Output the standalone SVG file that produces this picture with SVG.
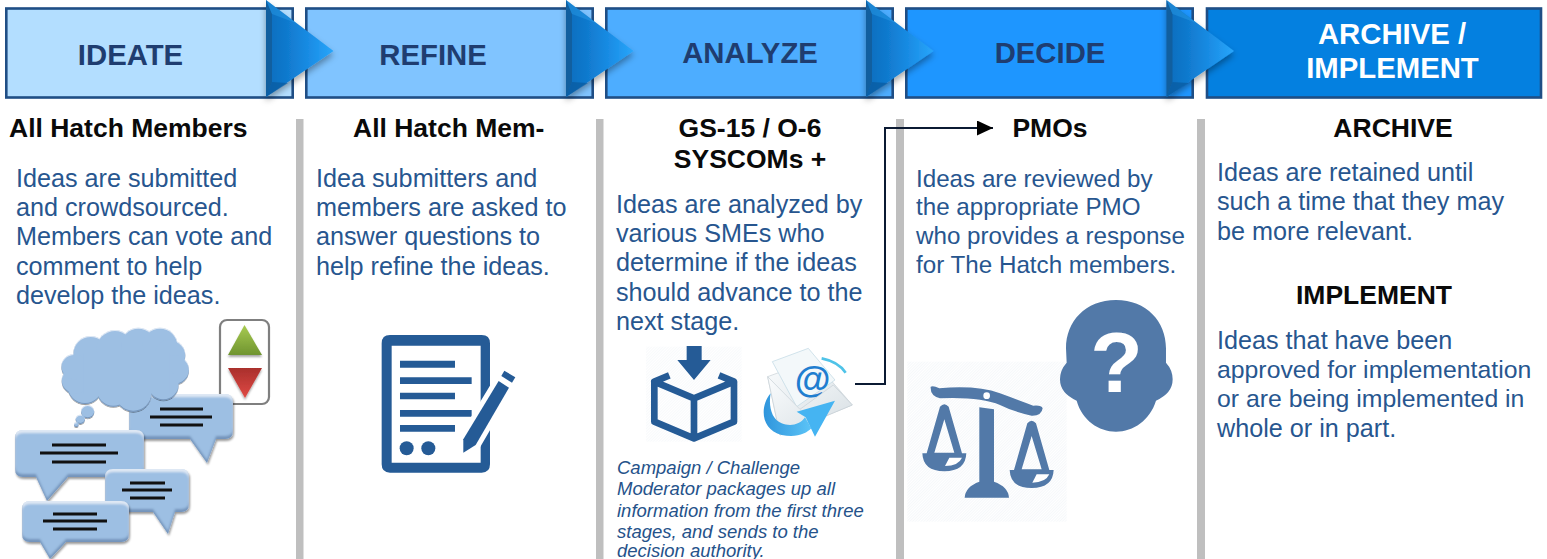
<svg xmlns="http://www.w3.org/2000/svg" width="1547" height="559" viewBox="0 0 1547 559">
<style>
text{font-family:"Liberation Sans",Arial,sans-serif}
.box{stroke:#1f4e85;stroke-width:2.6}
.title{font-size:29.3px;font-weight:bold;fill:#1f3d70;text-anchor:middle}
.head{font-size:26.5px;font-weight:bold;fill:#0a0a0a}
.mid{text-anchor:middle}
.body{font-size:25.2px;fill:#27568f}
.b4{font-size:24.2px}
.b5{font-size:24.8px}
.note{font-size:18.5px;font-style:italic;fill:#25528a}
.sep{fill:#bfbfbf}
.bub{fill:#9dbfe3;filter:url(#bevel)}
.ln{stroke:#111;stroke-width:2.8;fill:none}
.ic{fill:#255b96}
.ic2{fill:#5279a8}
</style>
<defs>
<linearGradient id="ag" x1="0" x2="1" y1="0" y2="0"><stop offset="0" stop-color="#0e6dbd"/><stop offset=".3" stop-color="#1079cd"/><stop offset=".65" stop-color="#1a8de5"/><stop offset="1" stop-color="#28a6fb"/></linearGradient>
<linearGradient id="gr" x1="0" x2="0" y1="0" y2="1"><stop offset="0" stop-color="#a8cb50"/><stop offset="1" stop-color="#6f9430"/></linearGradient>
<linearGradient id="rd" x1="0" x2="0" y1="0" y2="1"><stop offset="0" stop-color="#a92f2c"/><stop offset="1" stop-color="#e04a44"/></linearGradient>
<linearGradient id="env" x1="0" x2="1" y1="0" y2="1"><stop offset="0" stop-color="#fafcfd"/><stop offset="1" stop-color="#d5dde2"/></linearGradient>
<linearGradient id="sw" x1="0" x2="1" y1="0" y2="0"><stop offset="0" stop-color="#2f95dc"/><stop offset="1" stop-color="#5cc4f7"/></linearGradient>
<pattern id="hatch" width="6" height="6" patternUnits="userSpaceOnUse" patternTransform="rotate(45)"><rect width="6" height="6" fill="#fff"/><rect width="2" height="6" fill="#eef2f7"/></pattern>
<filter id="bevel" x="-15%" y="-15%" width="130%" height="135%">
<feOffset in="SourceAlpha" dy="3" result="o1"/><feGaussianBlur in="o1" stdDeviation="1.2" result="b1"/>
<feComposite in="SourceAlpha" in2="b1" operator="out" result="top"/>
<feFlood flood-color="#fff" flood-opacity=".6"/><feComposite in2="top" operator="in" result="hi"/>
<feOffset in="SourceAlpha" dy="-3" result="o2"/><feGaussianBlur in="o2" stdDeviation="1.2" result="b2"/>
<feComposite in="SourceAlpha" in2="b2" operator="out" result="bot"/>
<feFlood flood-color="#1f4e85" flood-opacity=".5"/><feComposite in2="bot" operator="in" result="lo"/>
<feOffset in="SourceAlpha" dy="2" dx="1"/><feGaussianBlur stdDeviation="1.2"/><feComponentTransfer result="sh"><feFuncA type="linear" slope=".4"/></feComponentTransfer>
<feMerge><feMergeNode in="sh"/><feMergeNode in="SourceGraphic"/><feMergeNode in="hi"/><feMergeNode in="lo"/></feMerge>
</filter>
<filter id="ash" x="-30%" y="-10%" width="170%" height="130%"><feDropShadow dx="0" dy="4" stdDeviation="3" flood-color="#000" flood-opacity=".35"/></filter>
<filter id="tsh" x="-20%" y="-20%" width="140%" height="150%"><feDropShadow dx="0" dy="2" stdDeviation="1" flood-color="#000" flood-opacity=".35"/></filter>
<marker id="ah" markerWidth="17" markerHeight="16" refX="16" refY="7.500" orient="auto" markerUnits="userSpaceOnUse"><path d="M0,0 L16,7.500 L0,15 Z" fill="#000"/></marker>
<g id="chev">
<path d="M0,0 L67.500,51 L0,97 Z" fill="url(#ag)" filter="url(#ash)"/>
<path d="M0,0 L6,14 L6,82 L0,97 Z" fill="#115f9f"/>
<path d="M0,97 L22,83 L6,82 Z" fill="#0a5a9e" opacity=".7"/>
<path d="M0,0 L30,23 L6,14 Z" fill="#2a9de8" opacity=".45"/>
</g>
</defs>
<rect width="1547" height="559" fill="#fff"/>

<g id="sep">
<rect class="sep" x="296" y="119" width="7.500" height="440"/>
<rect class="sep" x="596" y="119" width="7.500" height="440"/>
<rect class="sep" x="896" y="119" width="8" height="440"/>
<rect class="sep" x="1197" y="119" width="8" height="440"/>
</g>

<g id="step-ideate"><rect class="box" x="6.300" y="8.500" width="286.400" height="89" fill="#b3deff"/><text class="title" x="130.500" y="65">IDEATE</text></g>
<g id="step-refine"><rect class="box" x="306.300" y="8.500" width="286.400" height="89" fill="#80c4ff"/><text class="title" x="433" y="65">REFINE</text></g>
<g id="step-analyze"><rect class="box" x="606.300" y="8.500" width="286.400" height="89" fill="#4dadff"/><text class="title" x="750" y="63">ANALYZE</text></g>
<g id="step-decide"><rect class="box" x="906.300" y="8.500" width="286.400" height="89" fill="#1e96ff"/><text class="title" x="1050" y="63">DECIDE</text></g>
<g id="step-archive"><rect class="box" x="1207" y="8.500" width="334" height="89" fill="#0480e0"/><text class="title" x="1392" y="44" style="fill:#fff">ARCHIVE /</text><text class="title" x="1392.500" y="78" style="fill:#fff">IMPLEMENT</text></g>

<g id="chevrons">
<use href="#chev" x="266" y="0"/><use href="#chev" x="566" y="0"/><use href="#chev" x="866" y="0"/><use href="#chev" x="1166.500" y="0"/>
</g>

<g id="col-ideate">
<text class="head" x="9" y="137">All Hatch Members</text>
<text class="body" x="16" y="187">Ideas are submitted</text>
<text class="body" x="16" y="216">and crowdsourced.</text>
<text class="body" x="16" y="245">Members can vote and</text>
<text class="body" x="16" y="275">comment to help</text>
<text class="body" x="16" y="304">develop the ideas.</text>
</g>
<g id="icon-votes">
<rect x="220" y="320" width="49" height="84" rx="7" fill="#fff" stroke="#7f7f7f" stroke-width="2.200"/>
<path d="M244.500,325 L262,355 L228,355 Z" fill="url(#gr)" filter="url(#tsh)"/>
<path d="M228,368 L262,368 L245,398 Z" fill="url(#rd)" filter="url(#tsh)"/>
</g>
<g id="icon-bubble-a"><path class="bub" d="M137,394 H225 Q233,394 233,402 V431 Q233,439 225,439 H216 L207,463 L190,439 H137 Q129,439 129,431 V402 Q129,394 137,394 Z"/><path class="ln" d="M160,409 H203 M150,417 H212 M160,425 H203"/></g>
<g id="icon-cloud">
<g transform="translate(0,310) scale(.3333)" style="filter:url(#bevel)" fill="#9dbfe3">
<circle cx="272" cy="130" r="52"/><circle cx="345" cy="115" r="55"/><circle cx="415" cy="105" r="52"/><circle cx="480" cy="105" r="52"/><circle cx="510" cy="135" r="46"/><circle cx="523" cy="180" r="44"/><circle cx="490" cy="225" r="46"/><circle cx="400" cy="250" r="55"/><circle cx="340" cy="240" r="50"/><circle cx="255" cy="230" r="52"/><circle cx="225" cy="212" r="40"/><circle cx="222" cy="170" r="38"/><rect x="250" y="130" width="260" height="120"/>
<circle cx="263" cy="305" r="20"/><circle cx="241" cy="328" r="14"/><circle cx="229" cy="344" r="7"/>
</g>
</g>
<g id="icon-bubble-b"><path class="bub" d="M23,430 H136 Q144,430 144,438 V469 Q144,477 136,477 H68 L47,501 L36,477 H23 Q15,477 15,469 V438 Q15,430 23,430 Z"/><path class="ln" d="M52,445 H106 M40,453 H118 M52,462 H106"/></g>
<g id="icon-bubble-c"><path class="bub" d="M113,469 H181 Q189,469 189,477 V504 Q189,512 181,512 H175 L168,534 L153,512 H113 Q105,512 105,504 V477 Q105,469 113,469 Z"/><path class="ln" d="M130,483 H165 M122,490 H172 M130,498 H165"/></g>
<g id="icon-bubble-d"><path class="bub" d="M30,501 H121 Q129,501 129,509 V534 Q129,542 121,542 H66 L50,559 L40,542 H30 Q22,542 22,534 V509 Q22,501 30,501 Z"/><path class="ln" d="M53,514 H97 M43,521 H107 M53,529 H97"/></g>

<g id="col-refine">
<text class="head" x="353" y="137">All Hatch Mem-</text>
<text class="body" x="316" y="187">Idea submitters and</text>
<text class="body" x="316" y="216">members are asked to</text>
<text class="body" x="316" y="245">answer questions to</text>
<text class="body" x="316" y="275">help refine the ideas.</text>
</g>
<g id="icon-doc" transform="translate(360,320) scale(.3333)">
<path class="ic" fill-rule="evenodd" d="M90,45 H365 Q390,45 390,70 V433 Q390,458 365,458 H90 Q65,458 65,433 V70 Q65,45 90,45 Z M95,77 V428 H362 V77 Z"/>
<path class="ic" d="M120,122 H285 V143 H120 Z M120,172 H335 V192 H120 Z M120,218 H285 V238 H120 Z M120,270 H335 V290 H120 Z M120,315 H285 V335 H120 Z"/>
<circle class="ic" cx="140" cy="385" r="21"/><circle class="ic" cx="205" cy="385" r="21"/>
<path d="M310,398 L310,358 L416,183 L447,203 L347,375 Z" fill="#fff" stroke="#fff" stroke-width="30"/>
<path class="ic" d="M310,398 L310,358 L416,183 L447,203 L347,375 Z"/>
<path class="ic" d="M433,152 L466,172 L456,188 L424,168 Z"/>
</g>

<g id="col-analyze">
<text class="head mid" x="750" y="136.500">GS-15 / O-6</text>
<text class="head mid" x="750" y="168">SYSCOMs +</text>
<text class="body" x="616" y="213">Ideas are analyzed by</text>
<text class="body" x="616" y="242">various SMEs who</text>
<text class="body" x="616" y="271">determine if the ideas</text>
<text class="body" x="616" y="301">should advance to the</text>
<text class="body" x="616" y="330">next stage.</text>
<text class="note" x="617" y="474">Campaign / Challenge</text>
<text class="note" x="617" y="495">Moderator packages up all</text>
<text class="note" x="617" y="517">information from the first three</text>
<text class="note" x="617" y="538">stages, and sends to the</text>
<text class="note" x="617" y="557">decision authority.</text>
</g>
<g id="icon-box" transform="translate(600,330) scale(.3333)">
<rect x="138" y="50" width="287" height="285" fill="url(#hatch)" opacity=".6"/>
<path class="ic" d="M260,48 H305 V90 H332 L282,150 L232,90 H260 Z"/>
<path d="M208,136 L163,155 L282,205 L402,155 L357,136 M163,155 V275 L282,325 L402,275 V155 M282,205 V325" fill="none" stroke="#255b96" stroke-width="20" stroke-linejoin="round"/>
</g>
<g id="icon-mail" transform="translate(600,330) scale(.3333)">
<path d="M665,85 Q715,95 737,128" fill="none" stroke="#4fc3e8" stroke-width="8"/>
<path d="M503,140 L640,90 L757,225 L540,315 Z" fill="url(#env)" stroke="#c5ced4" stroke-width="2"/>
<path d="M517,95 L625,55 L705,150 L590,230 Z" fill="#f3f8fa" stroke="#bcd7e2" stroke-width="2"/>
<text x="638" y="185" font-size="110" font-weight="bold" fill="#1f7ed0" text-anchor="middle">@</text>
<path d="M503,140 L600,238 L700,165 L757,225 L540,315 Z" fill="url(#env)" stroke="#c5ced4" stroke-width="2"/>
<path d="M512,190 C478,230 483,300 545,315 C590,325 620,310 634,295 L615,262 C600,285 570,290 545,280 C515,268 505,230 512,190 Z" fill="url(#sw)"/>
<path d="M705,212 L590,245 L617,262 L645,320 Z" fill="#45b4f2"/>
</g>

<g id="col-decide">
<text class="head mid" x="1050" y="137">PMOs</text>
<text class="body b4" x="916" y="187">Ideas are reviewed by</text>
<text class="body b4" x="916" y="215">the appropriate PMO</text>
<text class="body b4" x="916" y="244">who provides a response</text>
<text class="body b4" x="916" y="273">for The Hatch members.</text>
</g>
<g id="icon-scales" transform="translate(900,290) scale(.3333)">
<rect x="22" y="215" width="478" height="480" fill="url(#hatch)" opacity=".8"/>
<path class="ic2" d="M92,290 Q100,286 118,295 Q230,285 300,310 Q360,332 400,347 Q425,345 428,355 Q425,378 395,377 Q340,365 300,345 Q240,320 120,325 Q90,318 92,290 Z"/>
<circle cx="260" cy="317" r="10" fill="#fff"/>
<path class="ic2" d="M238,352 L282,358 V575 Q325,590 327,623 H194 Q196,590 238,575 Z"/>
<path class="ic2" fill-rule="evenodd" d="M120,350 Q133,335 146,350 L186,490 H199 Q197,544 133,544 Q69,544 67,490 H80 Z M133,388 L103,488 H163 Z"/>
<path d="M135,528 L148,503 H186 Q175,528 135,528 Z" fill="#fff"/>
<path class="ic2" fill-rule="evenodd" d="M382,400 Q395,385 408,400 L448,540 H461 Q459,594 395,594 Q331,594 329,540 H342 Z M395,438 L365,538 H425 Z"/>
<path d="M397,578 L410,553 H448 Q437,578 397,578 Z" fill="#fff"/>
</g>
<g id="icon-head">
<path class="ic2" transform="translate(1040,290) scale(.3333)" d="M228,30 C320,30 378,95 378,175 L378,218 Q398,240 398,268 Q398,310 348,332 C330,390 280,425 228,425 C176,425 126,390 110,332 Q60,310 60,268 Q60,240 80,218 L78,175 C78,95 136,30 228,30 Z"/>
<text x="1116.500" y="392" font-size="86" font-weight="bold" fill="#fff" text-anchor="middle">?</text>
</g>

<g id="col-archive">
<text class="head mid" x="1393" y="137">ARCHIVE</text>
<text class="body" x="1217" y="181">Ideas are retained until</text>
<text class="body" x="1217" y="210">such a time that they may</text>
<text class="body" x="1217" y="240">be more relevant.</text>
<text class="head mid" x="1374" y="304">IMPLEMENT</text>
<text class="body" x="1217" y="349">Ideas that have been</text>
<text class="body b5" x="1217" y="378">approved for implementation</text>
<text class="body b5" x="1217" y="407">or are being implemented in</text>
<text class="body" x="1217" y="437">whole or in part.</text>
</g>

<g id="connectors">
<path d="M855,384 H885 V128 H993" fill="none" stroke="#0b1a33" stroke-width="2" marker-end="url(#ah)"/>
</g>
</svg>
